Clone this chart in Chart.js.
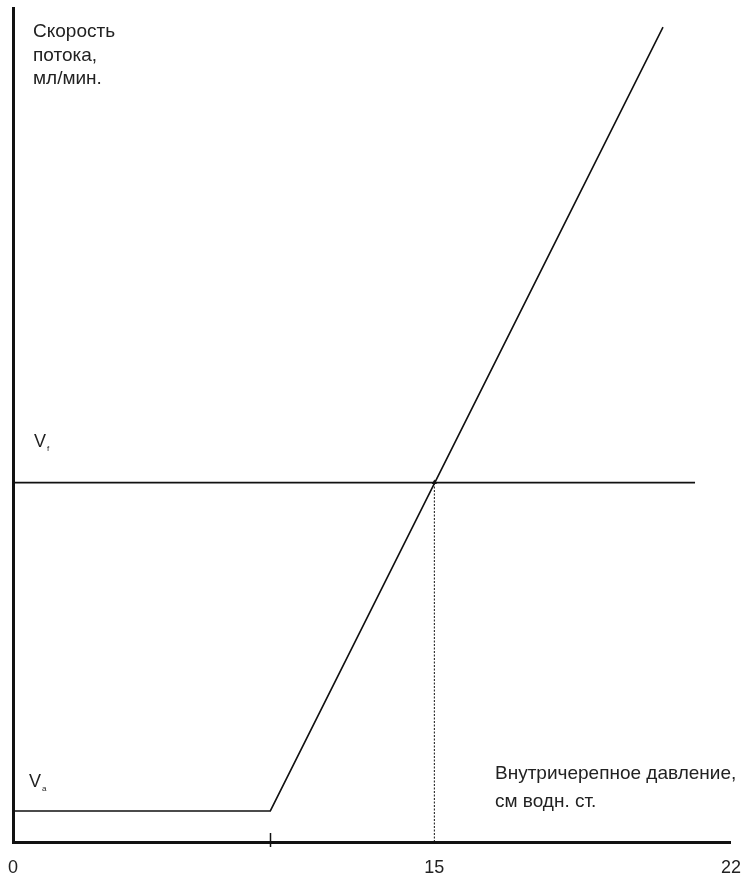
<!DOCTYPE html>
<html>
<head>
<meta charset="utf-8">
<script src="https://cdn.jsdelivr.net/npm/chart.js@4/dist/chart.umd.min.js"></script>
<style>
  html, body { margin: 0; padding: 0; background: #fff; }
  #grafico { display: block; }
</style>
</head>
<body>
<canvas id="grafico" width="748" height="874"></canvas>
<script>
// ejes (unidades del dibujo esquemático)
const xTickPos = [0, 9.16, 15, 25.56];
const xTickLabels = ['0', '', '15', '22'];

// curva de flujo: meseta Va y luego subida lineal
const flujoX = [0, 9.16, 23.14];
const flujoY = [3.72, 3.72, 97.7];

// nivel Vf y la línea de puntos en 15
const vfX = [0, 24.28];
const vfY = [43.1, 43.1];
const puntosX = [15, 15];
const puntosY = [0, 43.1];

// textos
const tituloY = ['Скорость', 'потока,', 'мл/мин.'];
const tituloX = ['Внутричерепное давление,', 'см водн. ст.'];
const etiquetas = [
  { base: 'V', sub: 'f', x: 0.75, y: 47.4 },
  { base: 'V', sub: 'a', x: 0.57, y: 6.6 }
];

const pares = (xs, ys) => xs.map((x, i) => ({ x: x, y: ys[i] }));
const FUENTE = '"Liberation Sans", Arial, sans-serif';

const textos = {
  id: 'textos',
  afterDraw(chart) {
    const ctx = chart.ctx;
    const sx = chart.scales.x;
    const sy = chart.scales.y;
    ctx.save();
    ctx.fillStyle = '#222';
    ctx.textBaseline = 'alphabetic';
    ctx.font = '19px ' + FUENTE;
    tituloY.forEach((t, i) => ctx.fillText(t, 33, 37 + i * 23.5));
    tituloX.forEach((t, i) => ctx.fillText(t, 495, 779 + i * 28));

    etiquetas.forEach(e => {
      const px = sx.getPixelForValue(e.x);
      const py = sy.getPixelForValue(e.y);
      ctx.font = '18px ' + FUENTE;
      ctx.fillText(e.base, px, py);
      const w = ctx.measureText(e.base).width;
      ctx.font = '8px ' + FUENTE;
      ctx.fillText(e.sub, px + w + 1, py + 4);
    });

    // marcas sin etiqueta sobre el eje x
    ctx.strokeStyle = '#111';
    ctx.lineWidth = 1.5;
    const ejeY = sy.getPixelForValue(0);
    xTickPos.forEach((v, i) => {
      if (xTickLabels[i] !== '') return;
      const px = Math.round(sx.getPixelForValue(v)) + 0.5;
      ctx.beginPath();
      ctx.moveTo(px, ejeY - 9);
      ctx.lineTo(px, ejeY + 5);
      ctx.stroke();
    });
    ctx.restore();
  }
};

new Chart(document.getElementById('grafico'), {
  type: 'line',
  data: {
    datasets: [
      {
        data: pares(flujoX, flujoY),
        borderColor: '#111',
        borderWidth: 1.6,
        pointRadius: 0,
        tension: 0
      },
      {
        data: pares(vfX, vfY),
        borderColor: '#111',
        borderWidth: 1.8,
        pointRadius: 0
      },
      {
        data: pares(puntosX, puntosY),
        borderColor: '#111',
        borderWidth: 1,
        borderDash: [2, 1.5],
        pointStyle: 'triangle',
        pointRadius: [0, 3],
        pointBackgroundColor: '#111',
        pointBorderWidth: 0
      }
    ]
  },
  options: {
    responsive: false,
    animation: false,
    parsing: false,
    layout: { padding: { left: 13, right: 14, top: 8, bottom: 0 } },
    plugins: {
      legend: { display: false },
      tooltip: { enabled: false }
    },
    scales: {
      x: {
        type: 'linear',
        min: 0,
        max: xTickPos[xTickPos.length - 1],
        afterBuildTicks: s => { s.ticks = xTickPos.map(v => ({ value: v })); },
        afterFit: s => { s.height = 32; },
        grid: { display: false },
        border: { display: true, color: '#111', width: 3 },
        ticks: {
          autoSkip: false,
          maxRotation: 0,
          padding: 7,
          color: '#222',
          font: { family: FUENTE, size: 18 },
          callback: (v, i) => xTickLabels[i]
        }
      },
      y: {
        type: 'linear',
        min: 0,
        max: 100,
        afterFit: s => { s.width = 0; },
        grid: { display: false },
        border: { display: true, color: '#111', width: 3 },
        ticks: { display: false }
      }
    }
  },
  plugins: [textos]
});
</script>
</body>
</html>
